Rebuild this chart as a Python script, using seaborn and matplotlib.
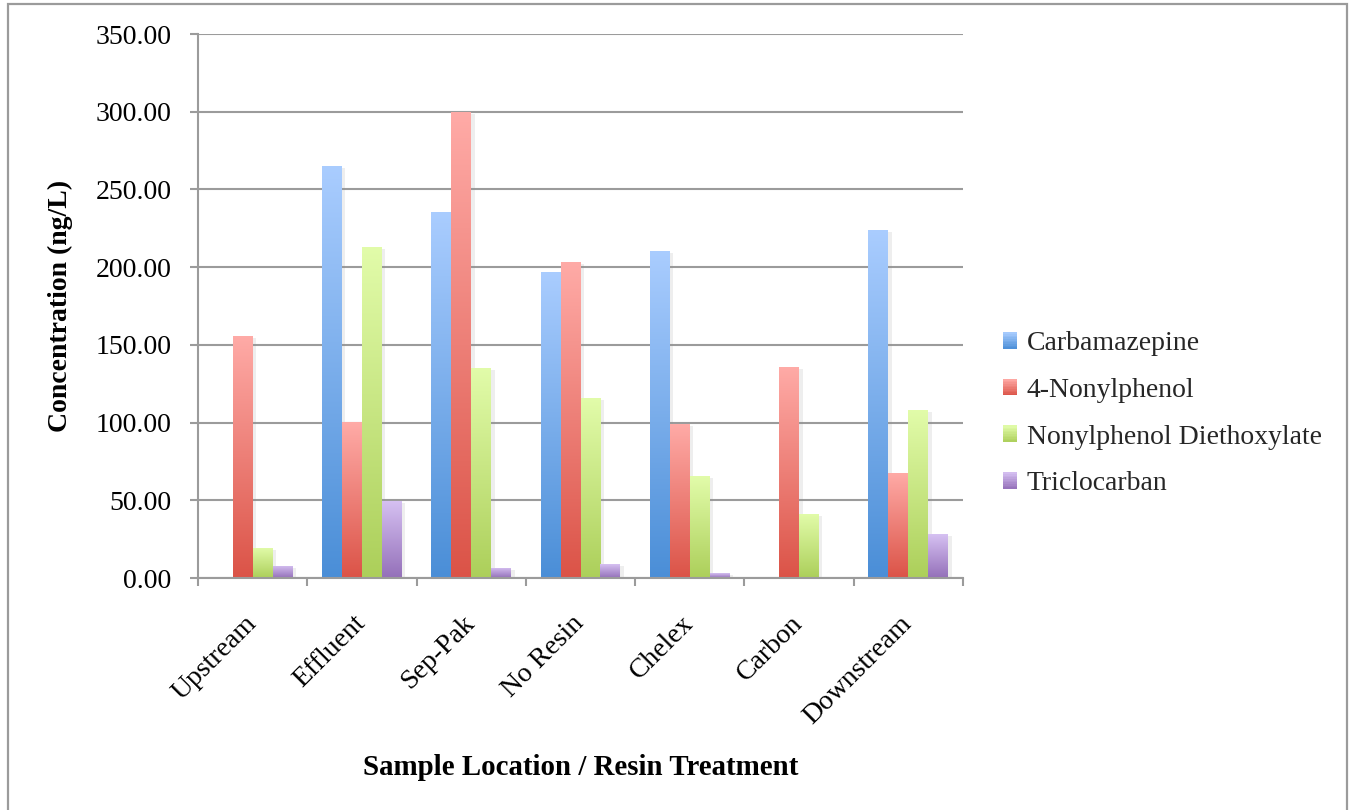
import numpy as np
import pandas as pd
import matplotlib
matplotlib.use("Agg")
import matplotlib.pyplot as plt
import seaborn as sns
import matplotlib.patheffects as pe
from matplotlib.colors import LinearSegmentedColormap
from matplotlib.patches import Rectangle
from matplotlib.legend_handler import HandlerBase
from matplotlib.ticker import FixedLocator, FormatStrFormatter, NullFormatter

# ---- data ---------------------------------------------------------------
locations = ["Upstream", "Effluent", "Sep-Pak", "No Resin", "Chelex", "Carbon", "Downstream"]
compounds = ["Carbamazepine", "4-Nonylphenol", "Nonylphenol Diethoxylate", "Triclocarban"]

carbamazepine = [0.0, 265.3, 235.7, 196.9, 210.4, 0.0, 223.9]
nonylphenol = [155.9, 100.1, 300.0, 203.3, 99.1, 135.8, 67.6]
np_diethoxylate = [19.5, 213.2, 135.3, 115.8, 65.6, 41.2, 108.1]
triclocarban = [7.9, 49.7, 6.6, 9.0, 3.2, 0.0, 28.3]

y_ticks = [0, 50, 100, 150, 200, 250, 300, 350]

# gradient ends for each series (bottom -> top)
bottom_colors = ["#4A8ED7", "#DB5347", "#ACCF5A", "#9470B9"]
top_colors = ["#AACDFF", "#FFABA7", "#E2FCAA", "#D6C1F2"]

series = [carbamazepine, nonylphenol, np_diethoxylate, triclocarban]
df = pd.DataFrame({
    "Location": np.repeat([locations], len(compounds), axis=0).ravel(),
    "Compound": np.repeat(compounds, len(locations)),
    "Concentration": np.concatenate(series),
})

# ---- style ----------------------------------------------------------------
sns.set_theme(style="white")
plt.rcParams["font.family"] = ["Liberation Serif", "DejaVu Serif"]
GRID = "#9B9B9B"
FS = 20

fig = plt.figure(figsize=(13.5, 8.1), dpi=100)
ax = fig.add_axes([198 / 1350, 1 - 578 / 810, (963 - 198) / 1350, (578 - 34) / 810])

sns.barplot(data=df, x="Location", y="Concentration", hue="Compound",
            order=locations, hue_order=compounds, palette=bottom_colors,
            width=0.73, saturation=1, legend=False, errorbar=None, ax=ax)

# vertical gradient fill + soft shadow on every bar
grad = np.linspace(0, 1, 256).reshape(-1, 1)
for i, cont in enumerate(ax.containers):
    cmap = LinearSegmentedColormap.from_list(f"g{i}", [bottom_colors[i], top_colors[i]])
    for bar in cont:
        h = bar.get_height()
        if h <= 0:
            bar.set_visible(False)
            continue
        bar.set_edgecolor("none")
        bar.set_path_effects([pe.SimplePatchShadow(offset=(2.5, -1.5), shadow_rgbFace="#909090", alpha=0.15),
                              pe.Normal()])
        x0 = bar.get_x()
        w = bar.get_width()
        im = ax.imshow(grad, extent=[x0, x0 + w, 0, h], origin="lower", cmap=cmap,
                       aspect="auto", interpolation="bicubic", zorder=bar.get_zorder() + 0.1)
        im.set_clip_path(bar)

ax.set_xlim(-0.5, len(locations) - 0.5)
ax.set_ylim(0, 350)

# axes, grid and ticks
ax.set_axisbelow(True)
ax.yaxis.set_major_locator(FixedLocator(y_ticks))
ax.yaxis.set_major_formatter(FormatStrFormatter("%.2f"))
ax.grid(axis="y", color=GRID, linewidth=1.5)
ax.grid(axis="x", visible=False)
for side in ["top", "right"]:
    ax.spines[side].set_visible(False)
for side in ["left", "bottom"]:
    ax.spines[side].set_color(GRID)
    ax.spines[side].set_linewidth(1.5)

ax.tick_params(axis="y", which="major", direction="out", length=6, width=1.5,
               color=GRID, pad=13, labelsize=FS, labelcolor="black", left=True)
ax.xaxis.set_minor_locator(FixedLocator(np.arange(-0.5, len(locations), 1.0)))
ax.xaxis.set_minor_formatter(NullFormatter())
ax.tick_params(axis="x", which="minor", direction="out", length=6, width=1.5,
               color=GRID, bottom=True)
ax.tick_params(axis="x", which="major", length=0, pad=30, labelsize=FS, labelcolor="black")
ax.set_xticks(range(len(locations)))
ax.set_xticklabels(locations, rotation=45, ha="right", va="center", rotation_mode="anchor")

ax.set_xlabel("Sample Location / Resin Treatment", fontsize=20.8, fontweight="bold", color="black")
ax.xaxis.label.set_va("center")
ax.xaxis.set_label_coords(0.5, -0.349)
ax.set_ylabel("Concentration (ng/L)", fontsize=20, fontweight="bold", color="black")
ax.yaxis.label.set_va("center")
ax.yaxis.set_label_coords(-0.180, 0.5)


# legend with gradient swatches
class GradientSwatch(HandlerBase):
    def __init__(self, c0, c1):
        super().__init__()
        self.cmap = LinearSegmentedColormap.from_list("sw", [c0, c1])

    def create_artists(self, legend, orig_handle, xdescent, ydescent, width, height, fontsize, trans):
        n = 10
        return [Rectangle((-xdescent, -ydescent + height * k / n), width, height / n + 0.3,
                          facecolor=self.cmap((k + 0.5) / n), edgecolor="none", transform=trans)
                for k in range(n)]


handles = [Rectangle((0, 0), 1, 1) for _ in compounds]
hmap = {h: GradientSwatch(b, t) for h, b, t in zip(handles, bottom_colors, top_colors)}
fig.legend(handles, compounds, handler_map=hmap, loc="center left",
           bbox_to_anchor=(1003 / 1350, 1 - 414 / 810), frameon=False, fontsize=FS,
           handlelength=0.52, handleheight=0.52, handletextpad=0.33, labelspacing=0.78,
           borderpad=0, borderaxespad=0)

# outer chart border
fig.add_artist(Rectangle((8 / 1350, -0.02), (1347 - 8) / 1350, 1.02 - 4 / 810,
                         transform=fig.transFigure, fill=False, edgecolor=GRID, linewidth=1.6))

fig.savefig("out.png", dpi=100, facecolor="white")
